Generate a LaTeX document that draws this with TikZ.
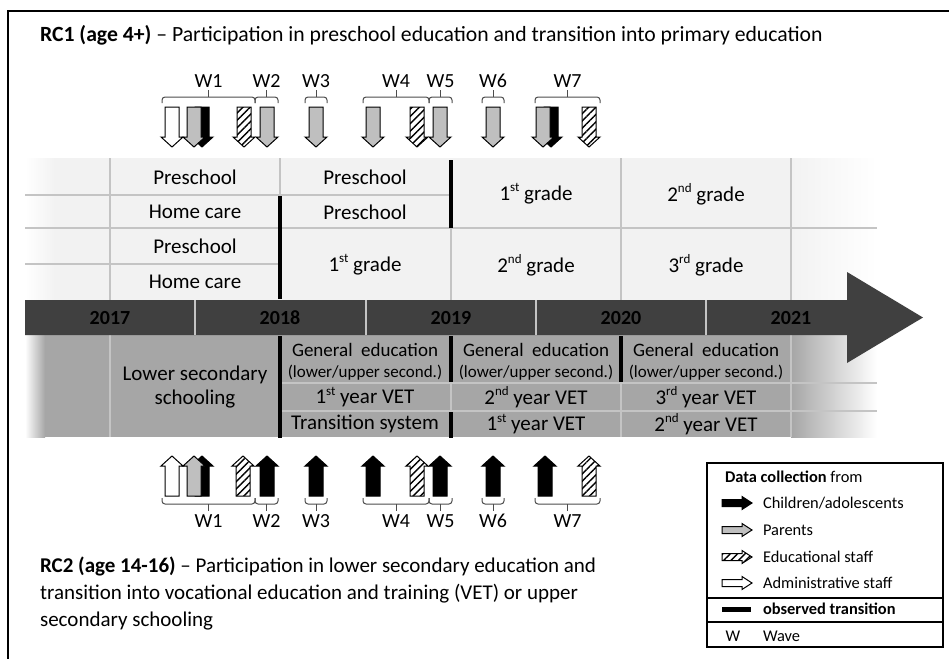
\documentclass[tikz,border=0pt]{standalone}
\usepackage{fontspec}
\setmainfont{Carlito}
\usetikzlibrary{patterns.meta}
\definecolor{paleg}{HTML}{F2F2F2}
\definecolor{midg}{HTML}{A6A6A6}
\definecolor{darkg}{HTML}{404040}
\definecolor{lineg}{HTML}{C4C4C4}
\definecolor{parentg}{HTML}{BFBFBF}

\tikzset{
  pics/dnarrow/.style={code={\draw[pic actions] (-7,0) -- (7,0) -- (7,30) -- (11,30) -- (0,40) -- (-11,30) -- (-7,30) -- cycle;}},
  pics/uparrow/.style={code={\draw[pic actions] (-7,0) -- (7,0) -- (7,-30) -- (11,-30) -- (0,-40) -- (-11,-30) -- (-7,-30) -- cycle;}},
  pics/rtarrow/.style={code={\draw[pic actions] (0,-3.5) -- (20,-3.5) -- (20,-6.5) -- (30,0) -- (20,6.5) -- (20,3.5) -- (0,3.5) -- cycle;}},
  childarr/.style={fill=black, draw=black, line width=0.5pt},
  parentarr/.style={fill=parentg, draw=black, line width=0.5pt},
  staffarr/.style={draw=black, line width=0.5pt, preaction={fill=white},
    pattern={Lines[angle=45,distance=2.6pt,line width=0.7pt]}},
  adminarr/.style={fill=white, draw=black, line width=0.5pt},
  gridline/.style={draw=lineg, line width=0.6pt},
  transline/.style={draw=black, line width=2pt},
  bracket/.style={draw=black!70, line width=0.5pt, rounded corners=1.5pt},
  cell/.style={font=\fontsize{10.5}{12}\selectfont},
  gencell/.style={font=\fontsize{9.5}{10}\selectfont},
  subcell/.style={font=\fontsize{8.5}{9}\selectfont},
  yearlbl/.style={font=\fontsize{10}{12}\selectfont\bfseries, text=black},
  wavelbl/.style={font=\fontsize{10}{11}\selectfont},
  legtext/.style={font=\fontsize{8.2}{10}\selectfont, anchor=west},
}

% small raised ordinal
\newcommand{\ordsup}[1]{\raisebox{0.42em}{\fontsize{6.5}{7}\selectfont #1}}

% wave brackets above / below the timeline
\newcommand{\topwave}[4]{%
  \pgfmathsetmacro\wmid{(#1+#2)/2}
  \draw[bracket] (#1,103) -- (#1,97) -- (#2,97) -- (#2,103);
  \draw[bracket] (\wmid,97) -- (\wmid,90);
  \node[wavelbl] (#4) at (\wmid,81) {#3};}
\newcommand{\botwave}[4]{%
  \pgfmathsetmacro\wmid{(#1+#2)/2}
  \draw[bracket] (#1,498) -- (#1,504) -- (#2,504) -- (#2,498);
  \draw[bracket] (\wmid,504) -- (\wmid,511);
  \node[wavelbl] (#4) at (\wmid,521) {#3};}

\begin{document}
\begin{tikzpicture}[x=0.5pt,y=-0.5pt,line cap=butt]
\useasboundingbox (0,0) rectangle (949,659);
\draw[line width=0.6pt] (8,659) -- (8,11) -- (949,11);

% title RC1
\node[anchor=west, font=\fontsize{10.85}{12}\selectfont] (rcone) at (33,35)
  {\textbf{RC1 (age 4+)} -- Participation in preschool education and transition into primary education};

% upper table (RC1)
\fill[paleg] (55,158) rectangle (791,300);
\shade[left color=white, right color=paleg] (25,158) rectangle (55,300);
\shade[left color=paleg, right color=white] (791,158) rectangle (877,300);
\draw[gridline] (25,195) -- (451,195);
\draw[gridline] (25,228) -- (877,228);
\draw[gridline] (25,264) -- (280,264);
\draw[gridline] (110,158) -- (110,300);
\draw[gridline] (280,158) -- (280,195);
\draw[gridline] (451,228) -- (451,300);
\draw[gridline] (621,158) -- (621,300);
\draw[gridline] (791,158) -- (791,300);
\draw[transline] (280,196) -- (280,299);
\draw[transline] (451,160) -- (451,228);

\node[cell] (presa) at (195,177) {Preschool};
\node[cell] (presb) at (365,177) {Preschool};
\node[cell] (homea) at (195,212) {Home care};
\node[cell] (presc) at (365,212) {Preschool};
\node[cell] (gradea) at (536,194) {1\ordsup{st} grade};
\node[cell] (gradeb) at (706,194) {2\ordsup{nd} grade};
\node[cell] (presd) at (195,246) {Preschool};
\node[cell] (homeb) at (195,282) {Home care};
\node[cell] (gradec) at (365,265) {1\ordsup{st} grade};
\node[cell] (graded) at (536,265) {2\ordsup{nd} grade};
\node[cell] (gradee) at (706,265) {3\ordsup{rd} grade};

% lower table (RC2)
\fill[midg] (45,335) rectangle (791,437);
\shade[left color=white, right color=midg] (25,335) rectangle (45,437);
\shade[left color=midg, right color=white] (791,335) rectangle (877,437);
\draw[gridline] (280,383) -- (877,383);
\draw[gridline] (280,411) -- (877,411);
\draw[gridline] (110,335) -- (110,437);
\draw[gridline] (451,383) -- (451,411);
\draw[gridline] (621,383) -- (621,437);
\draw[gridline] (791,335) -- (791,437);
\draw[transline] (280,336) -- (280,438);
\draw[transline] (451,336) -- (451,382);
\draw[transline] (451,412) -- (451,438);
\draw[transline] (621,336) -- (621,382);

\node[cell, align=center] (lowsec) at (195,387) {Lower secondary\\schooling};
\node[gencell] (gena) at (365,350) {General\ \ education};
\node[subcell] (suba) at (365,373) {(lower/upper second.)};
\node[gencell] (genb) at (536,350) {General\ \ education};
\node[subcell] (subb) at (536,373) {(lower/upper second.)};
\node[gencell] (genc) at (706,350) {General\ \ education};
\node[subcell] (subc) at (706,373) {(lower/upper second.)};
\node[cell] (veta) at (365,397) {1\ordsup{st} year VET};
\node[cell] (vetb) at (536,397) {2\ordsup{nd} year VET};
\node[cell] (vetc) at (706,397) {3\ordsup{rd} year VET};
\node[cell] (transys) at (365,424) {Transition system};
\node[cell] (vetd) at (536,424) {1\ordsup{st} year VET};
\node[cell] (vete) at (706,424) {2\ordsup{nd} year VET};

% timeline
\fill[darkg] (25,300) -- (847,300) -- (847,272) -- (923,317.5) -- (847,363) -- (847,335) -- (25,335) -- cycle;
\foreach \xd in {195,366,536,706}
  \draw[gridline] (\xd,300) -- (\xd,335);
\foreach \yr/\xc in {2017/110,2018/280,2019/451,2020/621,2021/791}
  \node[yearlbl] (y\yr) at (\xc,318) {\yr};

% waves RC1
\pic[adminarr] at (172,107) {dnarrow};
\pic[childarr] at (202,107) {dnarrow};
\pic[parentarr] at (194,107) {dnarrow};
\pic[staffarr] at (244,107) {dnarrow};
\pic[parentarr] at (267,107) {dnarrow};
\pic[parentarr] at (316,107) {dnarrow};
\pic[parentarr] at (373,107) {dnarrow};
\pic[staffarr] at (417,107) {dnarrow};
\pic[parentarr] at (440,107) {dnarrow};
\pic[parentarr] at (493,107) {dnarrow};
\pic[childarr] at (551,107) {dnarrow};
\pic[parentarr] at (543,107) {dnarrow};
\pic[staffarr] at (589,107) {dnarrow};
\topwave{162}{255}{W1}{wta}
\topwave{255}{278}{W2}{wtb}
\topwave{305}{327}{W3}{wtc}
\topwave{363}{429}{W4}{wtd}
\topwave{429}{452}{W5}{wte}
\topwave{482}{504}{W6}{wtf}
\topwave{535}{600}{W7}{wtg}

% waves RC2
\pic[adminarr] at (172,496) {uparrow};
\pic[childarr] at (202,496) {uparrow};
\pic[parentarr] at (194,496) {uparrow};
\pic[staffarr] at (243,496) {uparrow};
\pic[childarr] at (267,496) {uparrow};
\pic[childarr] at (316,496) {uparrow};
\pic[childarr] at (373,496) {uparrow};
\pic[staffarr] at (417,496) {uparrow};
\pic[childarr] at (440,496) {uparrow};
\pic[childarr] at (493,496) {uparrow};
\pic[childarr] at (545,496) {uparrow};
\pic[staffarr] at (589,496) {uparrow};
\botwave{162}{255}{W1}{wba}
\botwave{255}{278}{W2}{wbb}
\botwave{305}{327}{W3}{wbc}
\botwave{363}{429}{W4}{wbd}
\botwave{429}{452}{W5}{wbe}
\botwave{482}{504}{W6}{wbf}
\botwave{535}{600}{W7}{wbg}

% title RC2
\node[anchor=north west, align=left, font=\fontsize{10.5}{13.5}\selectfont] (rctwo) at (33,550)
  {\textbf{RC2 (age 14-16)} -- Participation in lower secondary education and\\
   transition into vocational education and training (VET) or upper\\
   secondary schooling};

% legend
\draw[line width=0.6pt] (707,463) rectangle (943,647);
\draw[line width=0.6pt] (707,598) -- (943,598);
\draw[line width=0.6pt] (707,622) -- (943,622);
\node[legtext] (leghead) at (718,477) {\textbf{Data collection} from};
\pic[childarr] at (722,503) {rtarrow};
\node[legtext] (legchild) at (756,503) {Children/adolescents};
\pic[parentarr] at (722,530) {rtarrow};
\node[legtext] (legparent) at (756,530) {Parents};
\pic[staffarr] at (722,557) {rtarrow};
\node[legtext] (legstaff) at (756,557) {Educational staff};
\pic[adminarr] at (722,583) {rtarrow};
\node[legtext] (legadmin) at (756,583) {Administrative staff};
\draw[transline, line width=2.5pt] (722,609) -- (751,609);
\node[legtext] (legtrans) at (756,609) {\textbf{observed transition}};
\node[legtext, anchor=center] (legw) at (733,636) {W};
\node[legtext] (legwave) at (756,636) {Wave};
\end{tikzpicture}
\end{document}
